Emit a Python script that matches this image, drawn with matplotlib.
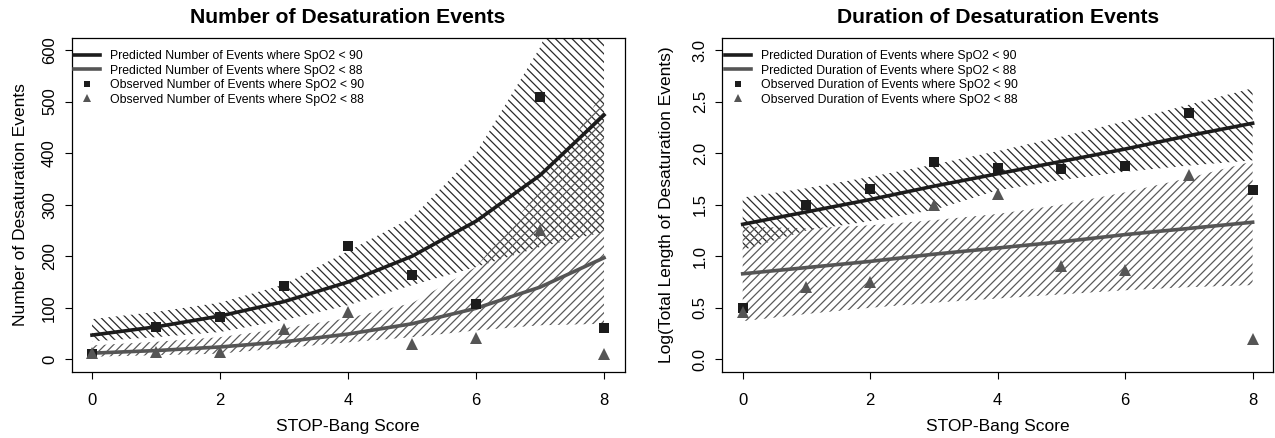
import matplotlib
matplotlib.use('Agg')
import matplotlib.pyplot as plt
from matplotlib.lines import Line2D

plt.rcParams['font.family'] = ['Liberation Sans', 'DejaVu Sans']
plt.rcParams['hatch.linewidth'] = 0.9

# STOP-Bang score on the x axis
scores = [0, 1, 2, 3, 4, 5, 6, 7, 8]

# left panel: number of desaturation events
num_obs_90 = [10, 63, 83, 142, 219, 163, 108, 509, 60]
num_obs_88 = [12, 14, 14, 58, 92, 30, 41, 250, 10]
num_pred_90 = [47, 63, 84, 112, 150, 200, 268, 357, 474]
num_pred_88 = [12, 17, 24, 34, 49, 69, 99, 140, 197]
num_lo_90 = [35, 43, 53, 76, 105, 144, 179, 218, 247]
num_hi_90 = [78, 92, 110, 145, 210, 275, 400, 605, 900]
num_lo_88 = [5, 8, 11, 22, 33, 43, 56, 66, 69]
num_hi_88 = [27, 34, 43, 60, 80, 109, 179, 328, 522]

# right panel: log total length of desaturation events
dur_obs_90 = [0.50, 1.50, 1.65, 1.91, 1.86, 1.85, 1.88, 2.39, 1.64]
dur_obs_88 = [0.46, 0.70, 0.75, 1.50, 1.60, 0.91, 0.87, 1.79, 0.20]
dur_pred_90 = [1.31, 1.43, 1.55, 1.68, 1.80, 1.92, 2.04, 2.17, 2.29]
dur_pred_88 = [0.83, 0.89, 0.95, 1.02, 1.08, 1.14, 1.21, 1.27, 1.33]
dur_lo_90 = [1.06, 1.25, 1.34, 1.45, 1.64, 1.74, 1.82, 1.88, 1.93]
dur_hi_90 = [1.57, 1.66, 1.77, 1.89, 2.02, 2.16, 2.31, 2.47, 2.63]
dur_lo_88 = [0.37, 0.44, 0.50, 0.55, 0.59, 0.63, 0.67, 0.70, 0.72]
dur_hi_88 = [1.29, 1.27, 1.30, 1.35, 1.41, 1.50, 1.62, 1.76, 1.92]

num_labels = ['Predicted Number of Events where SpO2 < 90',
              'Predicted Number of Events where SpO2 < 88',
              'Observed Number of Events where SpO2 < 90',
              'Observed Number of Events where SpO2 < 88']
dur_labels = ['Predicted Duration of Events where SpO2 < 90',
              'Predicted Duration of Events where SpO2 < 88',
              'Observed Duration of Events where SpO2 < 90',
              'Observed Duration of Events where SpO2 < 88']

DARK = '#1c1c1c'
GREY = '#555555'
DARK_HATCH = '#2a2a2a'
GREY_HATCH = '#5a5a5a'

W, H = 1275, 438
fig = plt.figure(figsize=(W / 100, H / 100), dpi=100)
ax1 = fig.add_axes([71.5 / W, (H - 371.7) / H, 553 / W, 334 / H])
ax2 = fig.add_axes([722.3 / W, (H - 371.7) / H, 550.7 / W, 334 / H])


def draw_panel(ax, pred90, pred88, lo90, hi90, lo88, hi88, obs90, obs88, labels):
    """Hatched confidence bands, fitted lines and observed points"""
    ax.fill_between(scores, lo90, hi90, facecolor='none', edgecolor=DARK_HATCH,
                    hatch='\\\\\\\\', linewidth=0)
    ax.fill_between(scores, lo88, hi88, facecolor='none', edgecolor=GREY_HATCH,
                    hatch='////', linewidth=0)
    ax.plot(scores, pred90, color=DARK, lw=2.6)
    ax.plot(scores, pred88, color=GREY, lw=2.6)
    ax.plot(scores, obs90, 's', color=DARK, ms=6.5, mew=0)
    ax.plot(scores, obs88, '^', color=GREY, ms=8, mew=0)

    handles = [Line2D([], [], color=DARK, lw=2.6),
               Line2D([], [], color=GREY, lw=2.6),
               Line2D([], [], ls='none', marker='s', color=DARK, ms=5, mew=0),
               Line2D([], [], ls='none', marker='^', color=GREY, ms=5.5, mew=0)]
    ax.legend(handles, labels, loc='upper left', bbox_to_anchor=(0.002, 0.966),
              frameon=False, fontsize=8.8, borderpad=0.1, borderaxespad=0,
              labelspacing=0.2, handlelength=2.15, handletextpad=0.85)

    ax.set_xlim(-0.32, 8.32)
    ax.set_xticks([0, 2, 4, 6, 8])
    ax.set_xlabel('STOP-Bang Score', fontsize=12.5)
    ax.xaxis.set_label_coords(0.5, -0.143)
    ax.tick_params(axis='both', direction='out', length=5, width=0.8, labelsize=12)
    ax.tick_params(axis='x', pad=10.5)
    ax.tick_params(axis='y', pad=5.5)
    for sp in ax.spines.values():
        sp.set_linewidth(0.9)


# Number of events
draw_panel(ax1, num_pred_90, num_pred_88, num_lo_90, num_hi_90,
           num_lo_88, num_hi_88, num_obs_90, num_obs_88, num_labels)
ax1.set_ylim(-24, 624)
ax1.set_yticks([0, 100, 200, 300, 400, 500, 600])
plt.setp(ax1.get_yticklabels(), rotation=90, va='center')
ax1.set_ylabel('Number of Desaturation Events', fontsize=12.5)
ax1.yaxis.set_label_coords(-0.078, 0.5)
ax1.set_title('Number of Desaturation Events', fontsize=15.2, fontweight='bold', pad=10.4)

# Duration of events
draw_panel(ax2, dur_pred_90, dur_pred_88, dur_lo_90, dur_hi_90,
           dur_lo_88, dur_hi_88, dur_obs_90, dur_obs_88, dur_labels)
ax2.set_ylim(-0.12, 3.12)
ax2.set_yticks([0.0, 0.5, 1.0, 1.5, 2.0, 2.5, 3.0])
ax2.set_yticklabels(['0.0', '0.5', '1.0', '1.5', '2.0', '2.5', '3.0'])
plt.setp(ax2.get_yticklabels(), rotation=90, va='center')
ax2.set_ylabel('Log(Total Length of Desaturation Events)', fontsize=12.5)
ax2.yaxis.set_label_coords(-0.087, 0.5)
ax2.set_title('Duration of Desaturation Events', fontsize=15.2, fontweight='bold', pad=10.4)

fig.savefig('out.png', dpi=100)
